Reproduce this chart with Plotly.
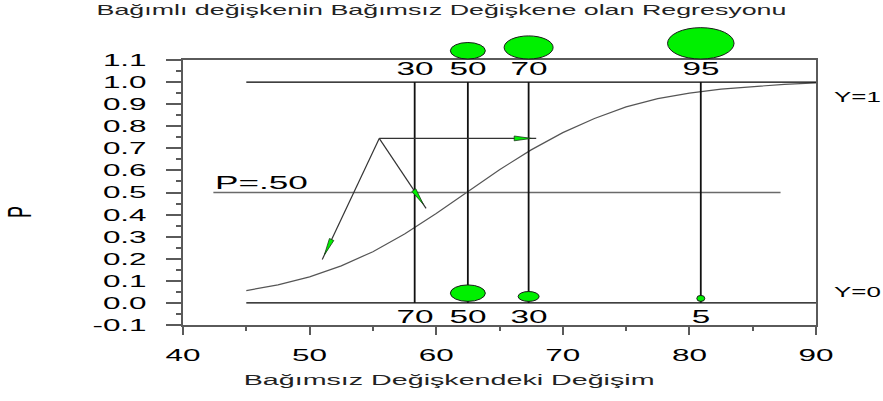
import math
import plotly.graph_objects as go

# ---------------- data ----------------
title_text = "Bağımlı değişkenin Bağımsız Değişkene olan Regresyonu"
x_title = "Bağımsız Değişkendeki Değişim"
y_title = "P"

x_tick_vals = [40, 50, 60, 70, 80, 90]
x_tick_text = ["40", "50", "60", "70", "80", "90"]
y_tick_vals = [-0.1, 0.0, 0.1, 0.2, 0.3, 0.4, 0.5, 0.6, 0.7, 0.8, 0.9, 1.0, 1.1]
y_tick_text = ["-0.1", "0.0", "0.1", "0.2", "0.3", "0.4", "0.5",
               "0.6", "0.7", "0.8", "0.9", "1.0", "1.1"]

# fitted probability curve
curve_x = [45, 47.5, 50, 52.5, 55, 57.5, 60, 62.5, 65, 67.5,
           70, 72.5, 75, 77.5, 80, 82.5, 85, 87.5, 90]
curve_p = [0.056, 0.082, 0.118, 0.168, 0.232, 0.312, 0.405, 0.504, 0.603, 0.693,
           0.771, 0.835, 0.888, 0.925, 0.950, 0.968, 0.980, 0.990, 0.996]

# groups of the independent variable
group_x = [58.3, 62.5, 67.3, 80.9]
pct_y1 = [30, 50, 70, 95]          # % with Y=1
pct_y0 = [70, 50, 30, 5]           # % with Y=0
bubble_y1_shown = [False, True, True, True]
bubble_y0_shown = [False, True, True, True]

# reference lines
ref_levels = [0.0, 1.0]
ref_labels = ["Y=0", "Y=1"]
ref_x = [45, 90]
p50_level = 0.5
p50_x = [42.4, 87.2]
p50_label = "P=.50"

# pointer arrows
arrow_from = (55.5, 0.745)
arrow_to_x = [51.0, 59.2, 67.9]
arrow_to_y = [0.197, 0.428, 0.745]

# ---------------- layout constants ----------------
W, H = 883, 401
ML, MR, MT, MB = 183, 67, 60, 76
XR = [40, 90]
YR = [-0.1, 1.1]
PX_X = (W - ML - MR) / (XR[1] - XR[0])
PX_Y = (H - MT - MB) / (YR[1] - YR[0])
FONT = "Liberation Sans, Arial, sans-serif"
GREEN = "#00f000"
AXC = "#5a5a5a"
STRETCH = 1.85   # the reference's lettering is horizontally stretched

fig = go.Figure()

# curve
fig.add_trace(go.Scatter(x=curve_x, y=curve_p, mode="lines",
                         line=dict(color="#555555", width=1.2),
                         hoverinfo="skip", showlegend=False))

# Y=0 / Y=1 lines
for lv in ref_levels:
    fig.add_trace(go.Scatter(x=ref_x, y=[lv, lv], mode="lines",
                             line=dict(color="#000000", width=1.2),
                             hoverinfo="skip", showlegend=False))

# P=.50 line
fig.add_trace(go.Scatter(x=p50_x, y=[p50_level, p50_level], mode="lines",
                         line=dict(color="#6a6a6a", width=1.6),
                         hoverinfo="skip", showlegend=False))

# vertical group lines
vx, vy = [], []
for gx in group_x:
    vx += [gx, gx, None]
    vy += [ref_levels[0], ref_levels[1], None]
fig.add_trace(go.Scatter(x=vx, y=vy, mode="lines",
                         line=dict(color="#111111", width=1.8),
                         hoverinfo="skip", showlegend=False))

# arrows: black shaft + slim green wedge near the end
ox, oy = arrow_from
TIP_BACK, WEDGE_LEN, HALF_W = 5.0, 17.0, 2.4
for ex, ey in zip(arrow_to_x, arrow_to_y):
    fig.add_trace(go.Scatter(x=[ox, ex], y=[oy, ey], mode="lines",
                             line=dict(color="#333333", width=1.2),
                             hoverinfo="skip", showlegend=False))
    dxp, dyp = (ex - ox) * PX_X, (ey - oy) * PX_Y
    L = math.hypot(dxp, dyp)
    ux, uy = dxp / L, dyp / L
    nx, ny = -uy, ux
    tip = (-ux * TIP_BACK, -uy * TIP_BACK)
    base = (-ux * (TIP_BACK + WEDGE_LEN), -uy * (TIP_BACK + WEDGE_LEN))
    pts = [tip,
           (base[0] + nx * HALF_W, base[1] + ny * HALF_W),
           (base[0] - nx * HALF_W, base[1] - ny * HALF_W),
           tip]
    fig.add_trace(go.Scatter(x=[ex + p[0] / PX_X for p in pts],
                             y=[ey + p[1] / PX_Y for p in pts],
                             mode="lines", fill="toself", fillcolor=GREEN,
                             line=dict(color="#1a3a1a", width=0.8),
                             hoverinfo="skip", showlegend=False))

# bubbles (ellipses, size proportional to group percentage)
shapes = []
for gx, p, show in zip(group_x, pct_y1, bubble_y1_shown):
    if not show:
        continue
    w, h = max(p * 0.70, 8), max(p * 0.33, 6)
    shapes.append(dict(type="circle", xref="x", yref="paper",
                       xsizemode="pixel", ysizemode="pixel",
                       xanchor=gx, yanchor=1.0,
                       x0=-w / 2, x1=w / 2, y0=1, y1=h + 1,
                       fillcolor=GREEN, line=dict(color="#1a1a1a", width=1),
                       layer="above"))
for gx, p, show in zip(group_x, pct_y0, bubble_y0_shown):
    if not show:
        continue
    w, h = max(p * 0.70, 8), max(p * 0.33, 6)
    shapes.append(dict(type="circle", xref="x", yref="y",
                       xsizemode="pixel", ysizemode="pixel",
                       xanchor=gx, yanchor=ref_levels[0],
                       x0=-w / 2, x1=w / 2, y0=1.5, y1=h + 1.5,
                       fillcolor=GREEN, line=dict(color="#1a1a1a", width=1),
                       layer="above"))

# annotations
ann = []
for gx, p in zip(group_x, pct_y1):
    ann.append(dict(x=gx, y=ref_levels[1], yshift=13, xref="x", yref="y",
                    text=str(p), showarrow=False,
                    xanchor="center", yanchor="middle",
                    font=dict(family=FONT, size=18, color="#000")))
for gx, p in zip(group_x, pct_y0):
    ann.append(dict(x=gx, y=ref_levels[0], yshift=-14, xref="x", yref="y",
                    text=str(p), showarrow=False,
                    xanchor="center", yanchor="middle",
                    font=dict(family=FONT, size=18, color="#000")))
for lv, lab in zip(ref_levels, ref_labels):
    ann.append(dict(x=1.025, xref="paper", y=lv, yref="y",
                    yshift=(11 if lv == ref_levels[0] else -15),
                    text=lab, showarrow=False,
                    xanchor="left", yanchor="middle",
                    font=dict(family=FONT, size=14, color="#000")))
ann.append(dict(x=p50_x[0], y=p50_level, yshift=10, xref="x", yref="y",
                text=p50_label, showarrow=False,
                xanchor="left", yanchor="middle",
                font=dict(family=FONT, size=19, color="#000")))
ann.append(dict(x=(448.5 - ML) / (W - ML - MR), y=(H - MB - 379) / (H - MT - MB),
                xref="paper", yref="paper", text=x_title,
                showarrow=False, xanchor="center", yanchor="middle",
                font=dict(family=FONT, size=15.5, color="#222")))
ann.append(dict(x=(20 - ML) / (W - ML - MR), y=(H - MB - 212) / (H - MT - MB),
                xref="paper", yref="paper", text=y_title, textangle=-90,
                showarrow=False, xanchor="center", yanchor="middle",
                font=dict(family=FONT, size=18, color="#000")))

x_minor = [(a + b) / 2 for a, b in zip(x_tick_vals[:-1], x_tick_vals[1:])]
y_minor = [(a + b) / 2 for a, b in zip(y_tick_vals[:-1], y_tick_vals[1:])]

fig.update_layout(
    width=W, height=H,
    margin=dict(l=ML, r=MR, t=MT, b=MB, pad=0),
    paper_bgcolor="white", plot_bgcolor="white",
    font=dict(family=FONT, color="#000"),
    title=dict(text=title_text, x=0.5, xref="container",
               xanchor="center", y=1 - 10 / H, yanchor="middle",
               font=dict(family=FONT, size=14.5, color="#222")),
    xaxis=dict(range=XR, tickmode="array", tickvals=x_tick_vals,
               ticktext=x_tick_text,
               ticks="outside", ticklen=8, tickwidth=2, tickcolor=AXC,
               minor=dict(tickmode="array", tickvals=x_minor, ticks="outside",
                          ticklen=4, tickwidth=2, tickcolor=AXC),
               showline=True, linecolor=AXC, linewidth=2, mirror=True,
               showgrid=False, zeroline=False,
               tickfont=dict(family=FONT, size=17, color="#000"),
               ticklabelstandoff=6),
    yaxis=dict(range=YR, tickmode="array", tickvals=y_tick_vals,
               ticktext=y_tick_text,
               ticks="outside", ticklen=15, tickwidth=2, tickcolor=AXC,
               minor=dict(tickmode="array", tickvals=y_minor, ticks="outside",
                          ticklen=5, tickwidth=2, tickcolor=AXC),
               showline=True, linecolor=AXC, linewidth=2, mirror=True,
               showgrid=False, zeroline=False,
               tickfont=dict(family=FONT, size=17, color="#000"),
               ticklabelstandoff=16),
    shapes=shapes,
    annotations=ann,
)

post_js = """
document.body.style.margin='0';
document.body.style.padding='0';
document.body.style.overflow='hidden';
var gd = document.getElementById('{plot_id}');
var S = %s;
var anns = (gd.layout && gd.layout.annotations) || [];
gd.querySelectorAll('text').forEach(function(t){
  var bb; try { bb = t.getBBox(); } catch(e) { return; }
  if (!bb || !bb.width) return;
  var mode = 'center', vertical = false;
  var a = t.getAttribute('text-anchor');
  if (a === 'end') mode = 'right'; else if (a === 'start') mode = 'left';
  var g = t.closest('.annotation');
  if (g) {
    var i = +g.getAttribute('data-index');
    var an = anns[i] || {};
    mode = an.xanchor === 'left' ? 'left' : (an.xanchor === 'right' ? 'right' : 'center');
    if (Math.abs(an.textangle || 0) === 90) vertical = true;
  }
  var tr = t.getAttribute('transform') || '';
  if (vertical) {
    var cy = bb.y + bb.height / 2;
    t.setAttribute('transform', tr + ' translate(0,' + cy + ') scale(1,' + S + ') translate(0,' + (-cy) + ')');
  } else {
    var cx = mode === 'left' ? bb.x : (mode === 'right' ? bb.x + bb.width : bb.x + bb.width / 2);
    t.setAttribute('transform', tr + ' translate(' + cx + ',0) scale(' + S + ',1) translate(' + (-cx) + ',0)');
  }
});
""" % STRETCH

fig.write_html("out.html", config={"displayModeBar": False}, post_script=post_js)
